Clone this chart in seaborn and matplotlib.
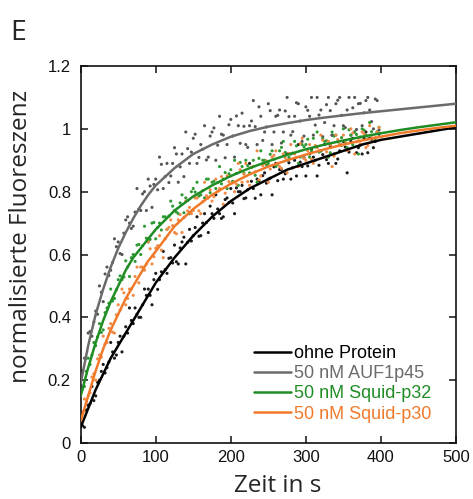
import numpy as np
import pandas as pd
import matplotlib
matplotlib.use("Agg")
import matplotlib.pyplot as plt
import seaborn as sns

# ---------------- data ----------------
series_names = ["ohne Protein", "50 nM AUF1p45", "50 nM Squid-p32", "50 nM Squid-p30"]
series_colors = ["#000000", "#6b6b6b", "#1f8c24", "#f07a2a"]
dot_colors = ["#1a1a1a", "#555555", "#2e9a33", "#f08a45"]

# fitted curves
fit_t = [0, 10, 20, 30, 40, 50, 60, 70, 80, 90, 100, 125, 150, 175, 200,
         225, 250, 275, 300, 325, 350, 375, 400, 425, 450, 475, 500]
fit_black = [.05, .11, .17, .22, .27, .31, .35, .39, .43, .47, .51, .59, .66, .72, .77,
             .81, .84, .87, .89, .91, .93, .95, .965, .975, .985, .995, 1.005]
fit_gray = [.19, .31, .41, .49, .56, .62, .67, .715, .755, .79, .82, .875, .92, .95, .975,
            .993, 1.007, 1.018, 1.028, 1.036, 1.043, 1.05, 1.056, 1.062, 1.068, 1.074, 1.08]
fit_green = [.15, .24, .32, .39, .45, .50, .55, .59, .62, .65, .68, .74, .785, .82, .85,
             .875, .897, .917, .935, .95, .963, .975, .986, .996, 1.005, 1.013, 1.021]
fit_orange = [.07, .15, .23, .30, .36, .41, .46, .50, .54, .58, .61, .69, .745, .79, .825,
              .855, .88, .90, .918, .935, .95, .963, .975, .986, .995, 1.003, 1.01]

meas_t_a = list(range(0, 400, 5))
meas_black_a = [.07, .05, .12, .18, .15, .20, .25, .24, .32, .27, .32, .29, .37, .43, .38, .41,
                .40, .49, .49, .44, .54, .52, .61, .54, .59, .63, .57, .64, .57, .68, .66, .72,
                .66, .73, .67, .73, .79, .73, .72, .78, .81, .73, .80, .82, .78, .89, .81, .84,
                .79, .86, .84, .79, .89, .87, .84, .92, .84, .90, .95, .88, .85, .92, .91, .85,
                .93, .95, .89, .98, .89, .93, .96, .86, .96, .99, .94, .92, .99, .97, .94, .99]
meas_gray_a = [.16, .27, .35, .34, .42, .50, .45, .56, .55, .65, .64, .60, .71, .70, .69, .81,
               .74, .80, .84, .75, .84, .91, .81, .89, .85, .94, .83, .92, .99, .89, .97, .89,
               .95, 1.01, .91, .99, .90, 1.04, .98, .95, 1.03, .91, 1.01, 1.05, .95, 1.01, 1.09, .95,
               1.04, .99, 1.08, .95, 1.04, 1.06, .99, 1.10, .98, 1.04, 1.08, .96, 1.07, 1.04, .98, 1.10,
               1.06, 1.02, 1.10, .98, 1.08, 1.10, 1.01, 1.06, .98, 1.10, 1.08, 1.01, 1.09, 1.06, 1.00, 1.09]
meas_green_a = [.16, .18, .27, .28, .31, .38, .36, .43, .49, .46, .52, .52, .58, .53, .60, .63,
                .60, .69, .64, .70, .65, .70, .72, .68, .77, .74, .73, .79, .78, .73, .81, .83,
                .79, .78, .84, .83, .81, .88, .84, .81, .87, .90, .82, .88, .90, .86, .90, .83,
                .93, .90, .89, .93, .88, .93, .96, .90, .92, .96, .89, .95, .95, .91, .97, .99,
                .93, .96, .91, .99, .98, .95, 1.00, .94, .98, .99, .92, 1.00, .98, 1.02, .96, .99]
meas_orange_a = [.05, .14, .15, .21, .20, .28, .34, .32, .38, .35, .44, .49, .44, .49, .47, .56,
                 .56, .55, .64, .57, .62, .66, .59, .68, .71, .67, .71, .67, .77, .75, .74, .78,
                 .73, .83, .78, .77, .84, .81, .76, .85, .85, .80, .89, .83, .89, .82, .88, .93,
                 .85, .89, .83, .91, .93, .88, .92, .86, .95, .92, .88, .97, .90, .95, .89, .94,
                 .98, .91, .96, .88, .98, .95, .98, .93, 1.00, .92, .97, .99, .94, 1.01, .96, .99]

# measured points: set B at 2.5, 7.5, ..., 397.5 s
meas_t_b = [2.5 + 5 * k for k in range(80)]
meas_black_b = [.055, .105, .125, .135, .193, .228, .223, .258, .29, .28,
                .34, .34, .35, .39, .43, .40, .44, .47, .47, .52,
                .489, .545, .552, .588, .573, .577, .621, .655, .639, .643,
                .686, .658, .70, .702, .754, .715, .745, .715, .775, .765,
                .764, .812, .80, .778, .806, .833, .779, .835, .851, .827,
                .843, .879, .835, .871, .857, .892, .876, .85, .894, .908,
                .882, .936, .90, .884, .918, .902, .946, .92, .904, .948,
                .942, .926, .97, .924, .948, .971, .924, .967, .96, .983]
meas_gray_b = [.23, .27, .355, .385, .41, .48, .538, .533, .575, .625,
               .603, .668, .72, .683, .735, .745, .793, .74, .818, .823,
               .806, .887, .848, .829, .89, .92, .879, .848, .937, .926,
               .983, .909, .935, .901, .977, 1.003, .948, .983, .908, 1.013,
               .977, 1.041, .954, 1.008, .941, 1.025, 1.007, 1.07, .963, 1.006,
               1.058, .99, 1.043, .955, 1.057, 1.039, .991, 1.083, 1.025, .977,
               1.059, 1.10, 1.012, 1.044, .975, 1.077, 1.058, 1.01, 1.091, 1.043,
               1.004, 1.10, 1.067, .998, 1.081, 1.051, 1.10, 1.023, 1.095, .996]
meas_green_b = [.172, .228, .25, .32, .338, .352, .415, .445, .452, .488,
                .532, .528, .56, .59, .578, .632, .628, .652, .648, .702,
                .686, .678, .72, .722, .754, .735, .764, .733, .772, .80,
                .799, .786, .803, .84, .797, .833, .829, .825, .861, .857,
                .833, .858, .893, .858, .883, .877, .852, .906, .90, .885,
                .919, .903, .887, .941, .925, .909, .923, .946, .91, .943,
                .967, .93, .943, .926, .969, .962, .924, .977, .959, .972,
                .954, .997, .949, .982, .974, .996, .968, .991, .963, 1.005]
meas_orange_b = [.10, .13, .16, .22, .268, .273, .315, .365, .353, .408,
                 .423, .478, .46, .49, .53, .51, .56, .57, .618, .593,
                 .628, .614, .65, .686, .692, .666, .727, .718, .739, .73,
                 .78, .739, .768, .787, .806, .784, .801, .848, .795, .832,
                 .828, .824, .87, .856, .832, .878, .863, .838, .883, .898,
                 .872, .916, .89, .874, .908, .922, .876, .909, .953, .906,
                 .93, .903, .947, .93, .964, .927, .95, .913, .966, .949,
                 .962, .934, .987, .959, .952, .984, .947, .979, .972, 1.004]

x_ticks = [0, 100, 200, 300, 400, 500]
x_ticklabels = ["0", "100", "200", "300", "400", "500"]
y_ticks = [0, 0.2, 0.4, 0.6, 0.8, 1.0, 1.2]
y_ticklabels = ["0", "0.2", "0.4", "0.6", "0.8", "1", "1.2"]

# ---------------- build tables ----------------
fits = [fit_black, fit_gray, fit_green, fit_orange]
meas_a = [meas_black_a, meas_gray_a, meas_green_a, meas_orange_a]
meas_b = [meas_black_b, meas_gray_b, meas_green_b, meas_orange_b]
fit_df = pd.concat([pd.DataFrame({"t": fit_t, "y": f, "serie": n}) for f, n in zip(fits, series_names)],
                   ignore_index=True)
parts = []
for ma, mb, n in zip(meas_a, meas_b, series_names):
    parts.append(pd.DataFrame({"t": meas_t_a, "y": ma, "serie": n}))
    parts.append(pd.DataFrame({"t": meas_t_b, "y": mb, "serie": n}))
meas_df = pd.concat(parts, ignore_index=True)

# ---------------- plot ----------------
sns.set_style("ticks")
plt.rcParams["font.family"] = ["Liberation Sans", "DejaVu Sans"]

fig = plt.figure(figsize=(4.73, 4.99), dpi=100)
ax = fig.add_axes([0.1706, 0.1122, 0.7934, 0.7555])

sns.scatterplot(data=meas_df, x="t", y="y", hue="serie", hue_order=series_names,
                palette=dict(zip(series_names, dot_colors)), s=5, linewidth=0,
                legend=False, ax=ax, zorder=2)
sns.lineplot(data=fit_df, x="t", y="y", hue="serie", hue_order=series_names,
             palette=dict(zip(series_names, series_colors)), linewidth=1.8,
             ax=ax, zorder=3)

ax.set_xlim(0, 500)
ax.set_ylim(0, 1.2)
ax.set_xticks(x_ticks)
ax.set_xticklabels(x_ticklabels)
ax.set_yticks(y_ticks)
ax.set_yticklabels(y_ticklabels)
ax.tick_params(direction="in", top=True, right=True, length=5, width=1.1,
               labelsize=12, colors="#111111")
ax.tick_params(axis="y", pad=7)
ax.tick_params(axis="x", pad=5)
for sp in ax.spines.values():
    sp.set_linewidth(1.2)
    sp.set_color("#111111")

label_font = ["Open Sans", "DejaVu Sans"]
ax.set_xlabel("Zeit in s", fontsize=17.5, family=label_font)
ax.set_ylabel("normalisierte Fluoreszenz", fontsize=17.5, family=label_font)
ax.xaxis.set_label_coords(0.526, -0.083)
ax.yaxis.set_label_coords(-0.128, 0.548)

leg = ax.legend(loc="lower right", bbox_to_anchor=(0.955, 0.035), frameon=False,
                fontsize=13, handlelength=2.05, handletextpad=0.22, labelspacing=0.18,
                borderaxespad=0)
for txt, c in zip(leg.get_texts(), series_colors):
    txt.set_color(c)

fig.text(0.021, 1 - 39.5 / 499, "E", fontsize=20.5, family=label_font, va="baseline", ha="left")

fig.savefig("out.png", dpi=100)
